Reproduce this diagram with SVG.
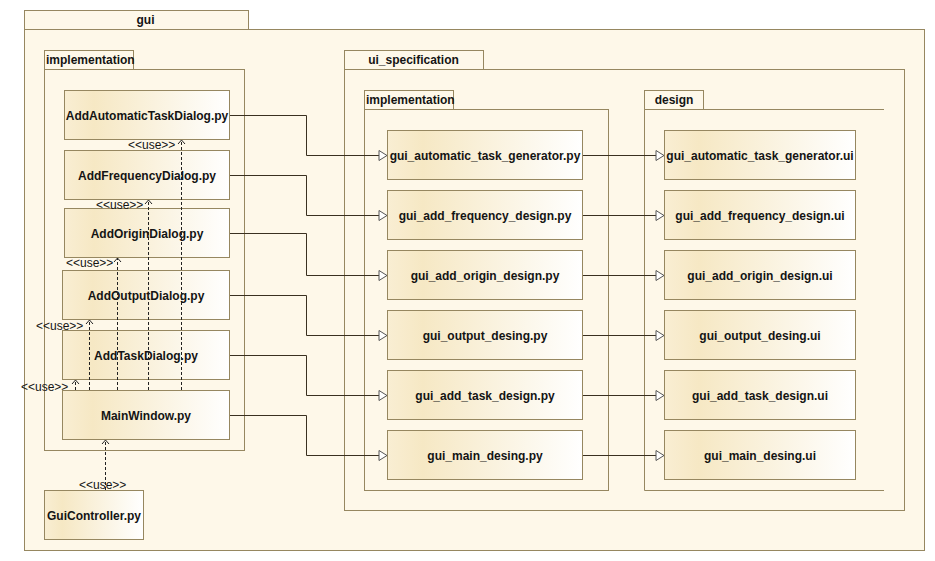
<svg xmlns="http://www.w3.org/2000/svg" width="935" height="561" viewBox="0 0 935 561">
<style>
.pkg{fill:#FEF8E9;stroke:#968760;stroke-width:1}
.pl{fill:none;stroke:#968760;stroke-width:1}
.node{fill:url(#ng);stroke:#968760;stroke-width:1}
.t{font-family:"Liberation Sans",Arial,sans-serif;font-size:12px;font-weight:bold;fill:#141414}
.u{font-family:"Liberation Sans",Arial,sans-serif;font-size:12px;fill:#141414}
.c{fill:none;stroke:#3A3020;stroke-width:1}
.d{fill:none;stroke:#222;stroke-width:1;stroke-dasharray:3,2}
.ah{fill:none;stroke:#222;stroke-width:1}
</style>
<defs>
<linearGradient id="ng" x1="0" y1="0" x2="1" y2="0">
<stop offset="0" stop-color="#F9EED3"/>
<stop offset="0.18" stop-color="#F6E8C4"/>
<stop offset="1" stop-color="#FFFFFF"/>
</linearGradient>
<marker id="tri" markerWidth="10" markerHeight="12" refX="9" refY="6" orient="auto" markerUnits="userSpaceOnUse">
<path d="M1,1 L9,6 L1,11 Z" fill="#FFFFFF" stroke="#555" stroke-width="1"/>
</marker>
<marker id="open" markerWidth="10" markerHeight="10" refX="5" refY="1" orient="0" markerUnits="userSpaceOnUse">
<path d="M1.5,5 L5,1 L8.5,5" fill="none" stroke="#222" stroke-width="1"/>
</marker>
</defs>
<rect width="935" height="561" fill="#FFFFFF"/>

<g id="pkg-gui">
<rect class="pkg" x="24.5" y="10.5" width="224" height="19"/>
<rect class="pkg" x="24.5" y="29.5" width="900" height="521"/>
<text class="t" x="136.5" y="24">gui</text>
</g>
<g id="pkg-gui-implementation">
<rect class="pkg" x="44.5" y="50.5" width="89" height="19"/>
<rect class="pkg" x="44.5" y="69.5" width="200" height="381"/>
<text class="t" x="46" y="64">implementation</text>
</g>
<g id="pkg-ui-specification">
<rect class="pkg" x="344.5" y="50.5" width="139" height="19"/>
<rect class="pkg" x="344.5" y="69.5" width="560" height="441"/>
<text class="t" x="413.5" y="64" text-anchor="middle">ui_specification</text>
</g>
<g id="pkg-ui-implementation">
<rect class="pkg" x="364.5" y="90.5" width="89" height="19"/>
<rect class="pkg" x="364.5" y="109.5" width="244" height="381"/>
<text class="t" x="366" y="104">implementation</text>
</g>
<g id="pkg-design">
<rect class="pkg" x="644.5" y="90.5" width="59" height="19"/>
<rect x="644.5" y="109.5" width="240" height="381" fill="#FEF8E9"/>
<path class="pl" d="M884,109.5 H644.5 V490.5 H884"/>
<text class="t" x="674" y="104" text-anchor="middle">design</text>
</g>

<g id="AddAutomaticTaskDialog">
<rect class="node" x="64.5" y="90.5" width="165" height="49"/>
<text class="t" x="147" y="119.5" text-anchor="middle">AddAutomaticTaskDialog.py</text>
</g>
<g id="AddFrequencyDialog">
<rect class="node" x="64.5" y="150.5" width="165" height="49"/>
<text class="t" x="147" y="179.5" text-anchor="middle">AddFrequencyDialog.py</text>
</g>
<g id="AddOriginDialog">
<rect class="node" x="64.5" y="208.5" width="165" height="49"/>
<text class="t" x="147" y="237.5" text-anchor="middle">AddOriginDialog.py</text>
</g>
<g id="AddOutputDialog">
<rect class="node" x="62.5" y="270.5" width="167" height="49"/>
<text class="t" x="146" y="299.5" text-anchor="middle">AddOutputDialog.py</text>
</g>
<g id="AddTaskDialog">
<rect class="node" x="62.5" y="330.5" width="167" height="49"/>
<text class="t" x="146" y="359.5" text-anchor="middle">AddTaskDialog.py</text>
</g>
<g id="MainWindow">
<rect class="node" x="62.5" y="390.5" width="167" height="49"/>
<text class="t" x="146" y="419.5" text-anchor="middle">MainWindow.py</text>
</g>
<g id="GuiController">
<rect class="node" x="44.5" y="490.5" width="99" height="49"/>
<text class="t" x="94" y="519.5" text-anchor="middle">GuiController.py</text>
</g>

<g id="gui_automatic_task_generator_py">
<rect class="node" x="387.5" y="130.5" width="195" height="49"/>
<text class="t" x="485" y="159.5" text-anchor="middle">gui_automatic_task_generator.py</text>
</g>
<g id="gui_add_frequency_design_py">
<rect class="node" x="387.5" y="190.5" width="195" height="49"/>
<text class="t" x="485" y="219.5" text-anchor="middle">gui_add_frequency_design.py</text>
</g>
<g id="gui_add_origin_design_py">
<rect class="node" x="387.5" y="250.5" width="195" height="49"/>
<text class="t" x="485" y="279.5" text-anchor="middle">gui_add_origin_design.py</text>
</g>
<g id="gui_output_desing_py">
<rect class="node" x="387.5" y="310.5" width="195" height="49"/>
<text class="t" x="485" y="339.5" text-anchor="middle">gui_output_desing.py</text>
</g>
<g id="gui_add_task_design_py">
<rect class="node" x="387.5" y="370.5" width="195" height="49"/>
<text class="t" x="485" y="399.5" text-anchor="middle">gui_add_task_design.py</text>
</g>
<g id="gui_main_desing_py">
<rect class="node" x="387.5" y="430.5" width="195" height="49"/>
<text class="t" x="485" y="459.5" text-anchor="middle">gui_main_desing.py</text>
</g>

<g id="gui_automatic_task_generator_ui">
<rect class="node" x="664.5" y="130.5" width="191" height="49"/>
<text class="t" x="760" y="159.5" text-anchor="middle">gui_automatic_task_generator.ui</text>
</g>
<g id="gui_add_frequency_design_ui">
<rect class="node" x="664.5" y="190.5" width="191" height="49"/>
<text class="t" x="760" y="219.5" text-anchor="middle">gui_add_frequency_design.ui</text>
</g>
<g id="gui_add_origin_design_ui">
<rect class="node" x="664.5" y="250.5" width="191" height="49"/>
<text class="t" x="760" y="279.5" text-anchor="middle">gui_add_origin_design.ui</text>
</g>
<g id="gui_output_desing_ui">
<rect class="node" x="664.5" y="310.5" width="191" height="49"/>
<text class="t" x="760" y="339.5" text-anchor="middle">gui_output_desing.ui</text>
</g>
<g id="gui_add_task_design_ui">
<rect class="node" x="664.5" y="370.5" width="191" height="49"/>
<text class="t" x="760" y="399.5" text-anchor="middle">gui_add_task_design.ui</text>
</g>
<g id="gui_main_desing_ui">
<rect class="node" x="664.5" y="430.5" width="191" height="49"/>
<text class="t" x="760" y="459.5" text-anchor="middle">gui_main_desing.ui</text>
</g>

<g id="connectors">
<path class="c" marker-end="url(#tri)" d="M230,115.5 H306.5 V155.5 H387"/>
<path class="c" marker-end="url(#tri)" d="M230,175.5 H306.5 V215.5 H387"/>
<path class="c" marker-end="url(#tri)" d="M230,233.5 H306.5 V275.5 H387"/>
<path class="c" marker-end="url(#tri)" d="M230,295.5 H306.5 V335.5 H387"/>
<path class="c" marker-end="url(#tri)" d="M230,355.5 H306.5 V395.5 H387"/>
<path class="c" marker-end="url(#tri)" d="M230,415.5 H306.5 V455.5 H387"/>

<path class="c" marker-end="url(#tri)" d="M583,155.5 H664"/>
<path class="c" marker-end="url(#tri)" d="M583,215.5 H664"/>
<path class="c" marker-end="url(#tri)" d="M583,275.5 H664"/>
<path class="c" marker-end="url(#tri)" d="M583,335.5 H664"/>
<path class="c" marker-end="url(#tri)" d="M583,395.5 H664"/>
<path class="c" marker-end="url(#tri)" d="M583,455.5 H664"/>

<path class="d" marker-end="url(#open)" d="M181.5,390 V140"/>
<path class="d" marker-end="url(#open)" d="M148.5,390 V200"/>
<path class="d" marker-end="url(#open)" d="M117.5,390 V258"/>
<path class="d" marker-end="url(#open)" d="M89.5,390 V320"/>
<path class="d" marker-end="url(#open)" d="M75.5,390 V380"/>
<path class="d" marker-end="url(#open)" d="M105.5,490 V440"/>

<text class="u" x="128" y="148.5">&lt;&lt;use&gt;&gt;</text>
<text class="u" x="96" y="208.5">&lt;&lt;use&gt;&gt;</text>
<text class="u" x="66" y="267">&lt;&lt;use&gt;&gt;</text>
<text class="u" x="36" y="330">&lt;&lt;use&gt;&gt;</text>
<text class="u" x="21" y="391">&lt;&lt;use&gt;&gt;</text>
<text class="u" x="79" y="489">&lt;&lt;use&gt;&gt;</text>
</g>
</svg>
